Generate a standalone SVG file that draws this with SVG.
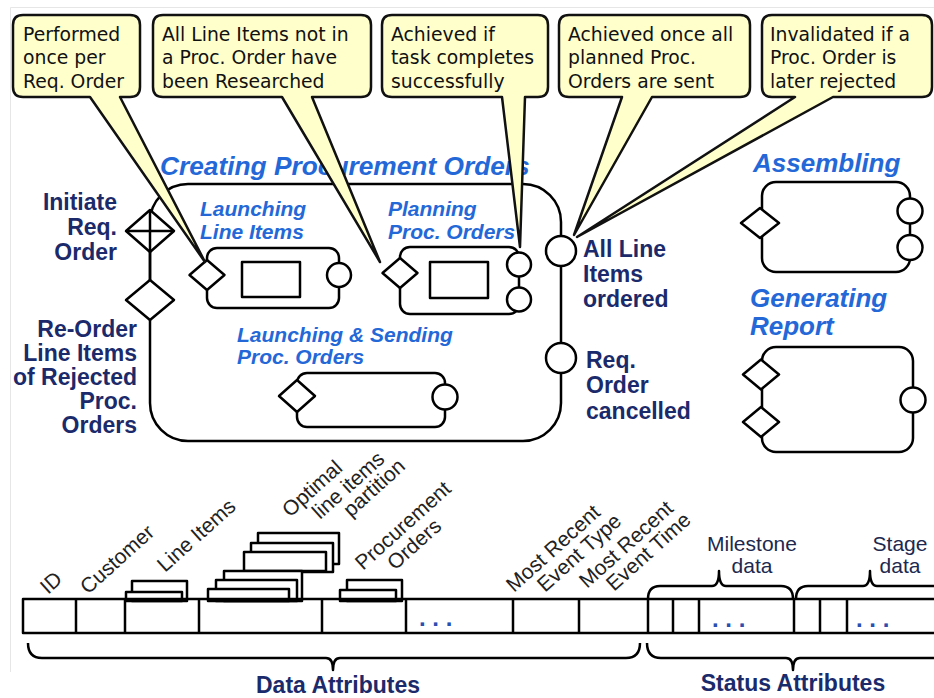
<svg xmlns="http://www.w3.org/2000/svg" width="934" height="698" viewBox="0 0 934 698">
<style>
.ln{fill:none;stroke:#000;stroke-width:2.5;stroke-linejoin:round}
.nd{fill:#fff;stroke:#000;stroke-width:2.5;stroke-linejoin:round}
.co{fill:#FFFFCC;stroke:#111;stroke-width:2.5;stroke-linejoin:round}
.ct{font-family:"DejaVu Sans",Verdana,sans-serif;font-size:18.8px;fill:#111}
.bt{font-family:"Liberation Sans",Arial,sans-serif;font-weight:bold;font-style:italic;fill:#2468d8}
.nv{font-family:"Liberation Sans",Arial,sans-serif;font-weight:bold;font-size:23px;fill:#1b2a6b}
.rt{font-family:"Liberation Sans",Arial,sans-serif;font-size:21px;fill:#222}
.md{font-family:"Liberation Sans",Arial,sans-serif;font-size:21px;fill:#20284f;text-anchor:middle}
.dt{font-family:"Liberation Sans",Arial,sans-serif;font-size:24px;font-weight:bold;fill:#2a4fb0}
</style>
<g id="frame" fill="none" stroke="#e6e6e6" stroke-width="1"><path d="M10.5,672 V7.5 H934"/></g>

<g id="title"><text class="bt" x="160" y="175" font-size="26.3">Creating Procurement Orders</text></g>

<g id="container">
<rect class="ln" x="150" y="184" width="411" height="257" rx="38"/>
</g>

<g id="initiate">
<polygon class="nd" points="150,210 174,231 150,252 126,231"/>
<path class="ln" d="M150,210 V252 M126,231 H174"/>
<text class="nv" text-anchor="end"><tspan x="117" y="210">Initiate</tspan><tspan x="117" y="235">Req.</tspan><tspan x="117" y="260">Order</tspan></text>
</g>
<g id="reorder">
<path class="ln" d="M150,252 V280"/>
<polygon class="nd" points="150,280 174,300 150,320 126,300"/>
<text class="nv" text-anchor="end"><tspan x="137" y="337">Re-Order</tspan><tspan x="137" y="361">Line Items</tspan><tspan x="137" y="385">of Rejected</tspan><tspan x="137" y="409">Proc.</tspan><tspan x="137" y="433">Orders</tspan></text>
</g>

<g id="launching-line-items">
<text class="bt" font-size="21"><tspan x="200" y="216">Launching</tspan><tspan x="200" y="239">Line Items</tspan></text>
<rect class="nd" x="207" y="248" width="132" height="60" rx="10"/>
<rect class="nd" x="242" y="262" width="58" height="35"/>
<polygon class="nd" points="207,260 224.5,275 207,290 189.5,275"/>
<circle class="nd" cx="339" cy="275" r="12"/>
</g>

<g id="planning-proc-orders">
<text class="bt" font-size="21"><tspan x="388" y="216">Planning</tspan><tspan x="388" y="239">Proc. Orders</tspan></text>
<rect class="nd" x="400" y="247" width="119" height="67" rx="10"/>
<rect class="nd" x="430" y="262" width="58" height="36"/>
<polygon class="nd" points="400,258 417.5,273 400,288 382.5,273"/>
<circle class="nd" cx="519" cy="264.5" r="12"/>
<circle class="nd" cx="519" cy="299.5" r="12"/>
</g>

<g id="launching-sending">
<text class="bt" font-size="21"><tspan x="237" y="342">Launching &amp; Sending</tspan><tspan x="237" y="364">Proc. Orders</tspan></text>
<rect class="nd" x="297" y="373" width="148" height="54" rx="10"/>
<polygon class="nd" points="297,380 315,396 297,412 279,396"/>
<circle class="nd" cx="445" cy="397" r="12.5"/>
</g>

<g id="all-line-items-ordered">
<circle class="nd" cx="561" cy="251" r="15"/>
<text class="nv"><tspan x="583" y="257">All Line</tspan><tspan x="583" y="282">Items</tspan><tspan x="583" y="307">ordered</tspan></text>
</g>
<g id="req-order-cancelled">
<circle class="nd" cx="561" cy="358" r="15"/>
<text class="nv"><tspan x="586" y="368">Req.</tspan><tspan x="586" y="393">Order</tspan><tspan x="586" y="419">cancelled</tspan></text>
</g>

<g id="assembling">
<text class="bt" x="753" y="172" font-size="26">Assembling</text>
<rect class="nd" x="762" y="182" width="148" height="90" rx="14"/>
<polygon class="nd" points="760,208 779,223 760,238 741,223"/>
<circle class="nd" cx="910" cy="211" r="12.5"/>
<circle class="nd" cx="910" cy="247.5" r="12.5"/>
</g>

<g id="generating-report">
<text class="bt" font-size="26"><tspan x="750" y="307">Generating</tspan><tspan x="750" y="335">Report</tspan></text>
<rect class="nd" x="762" y="347" width="151" height="105" rx="14"/>
<polygon class="nd" points="761,359.5 779,374.5 761,389.5 743,374.5"/>
<polygon class="nd" points="761,407 779,422 761,437 743,422"/>
<circle class="nd" cx="913" cy="400" r="12.5"/>
</g>

<g id="attribute-stacks">
<rect class="nd" x="132" y="581" width="55" height="20"/>
<rect class="nd" x="126" y="592" width="56" height="9"/>
<rect class="nd" x="258" y="533" width="81" height="31"/>
<rect class="nd" x="251" y="543" width="82" height="29"/>
<rect class="nd" x="244" y="552" width="82" height="19"/>
<rect class="nd" x="224" y="571" width="78" height="30"/>
<rect class="nd" x="216" y="580" width="81" height="21"/>
<rect class="nd" x="208" y="589" width="81" height="12"/>
<rect class="nd" x="347" y="580" width="55" height="21"/>
<rect class="nd" x="340" y="590" width="56" height="11"/>
</g>

<g id="attribute-row">
<path class="ln" d="M940,599 H23 V633 H940 M76,599 V633 M125,599 V633 M199,599 V633 M322,599 V633 M406,599 V633 M513,599 V633 M579,599 V633 M648,599 V633 M673,599 V633 M699,599 V633 M794,599 V633 M820,599 V633 M847,599 V633"/>
<text class="dt" x="419" y="626">. . .</text>
<text class="dt" x="712" y="627">. . .</text>
<text class="dt" x="856" y="627">. . .</text>
</g>

<g id="attribute-labels" class="rt">
<text transform="translate(48,595) rotate(-42)">ID</text>
<text transform="translate(88,595) rotate(-42)">Customer</text>
<text transform="translate(165,573) rotate(-42)">Line Items</text>
<text transform="translate(290,518) rotate(-42)">Optimal</text>
<text transform="translate(320,520) rotate(-42)">line items</text>
<text transform="translate(351,518) rotate(-42)">partition</text>
<text transform="translate(363,571) rotate(-42)">Procurement</text>
<text transform="translate(395,571) rotate(-42)">Orders</text>
<text transform="translate(514,593) rotate(-42)">Most Recent</text>
<text transform="translate(545,593) rotate(-42)">Event Type</text>
<text transform="translate(587,589) rotate(-42)">Most Recent</text>
<text transform="translate(614,592) rotate(-42)">Event Time</text>
</g>

<g id="milestone-data">
<path class="ln" d="M648,599 Q648,586 660,586 L712,586 Q719,586 719,571 Q719,586 726,586 L781,586 Q793,586 793,599"/>
<text class="md"><tspan x="752" y="551">Milestone</tspan><tspan x="752" y="573">data</tspan></text>
</g>
<g id="stage-data">
<path class="ln" d="M796,599 Q796,586 808,586 L863,586 Q870,586 870,571 Q870,586 877,586 L940,586"/>
<text class="md"><tspan x="900" y="551">Stage</tspan><tspan x="900" y="573">data</tspan></text>
</g>

<g id="data-attributes">
<path class="ln" d="M28,643 Q28,658 42,658 L326,658 Q333,658 333,670 Q333,658 340,658 L626,658 Q640,658 640,643"/>
<text class="nv" x="338" y="693" text-anchor="middle">Data Attributes</text>
</g>
<g id="status-attributes">
<path class="ln" d="M647,643 Q647,658 661,658 L786,658 Q793,658 793,670 Q793,658 800,658 L940,658"/>
<text class="nv" x="793" y="691" text-anchor="middle">Status Attributes</text>
</g>

<g id="callout-1">
<path class="co" d="M23,15 H130 Q140,15 140,25 V87 Q140,97 130,97 H120 L205,262 L90,97 H23 Q13,97 13,87 V25 Q13,15 23,15 Z"/>
<text class="ct"><tspan x="23" y="40.5">Performed</tspan><tspan x="23" y="64">once per</tspan><tspan x="23" y="87.5">Req. Order</tspan></text>
</g>
<g id="callout-2">
<path class="co" d="M163,15 H361 Q371,15 371,25 V87 Q371,97 361,97 H312 L380,262 L282,97 H163 Q153,97 153,87 V25 Q153,15 163,15 Z"/>
<text class="ct"><tspan x="162" y="40.5">All Line Items not in</tspan><tspan x="162" y="64">a Proc. Order have</tspan><tspan x="162" y="87.5">been Researched</tspan></text>
</g>
<g id="callout-3">
<path class="co" d="M392,15 H538 Q548,15 548,25 V87 Q548,97 538,97 H525 L520,247 L502,97 H392 Q382,97 382,87 V25 Q382,15 392,15 Z"/>
<text class="ct"><tspan x="391" y="40.5">Achieved if</tspan><tspan x="391" y="64">task completes</tspan><tspan x="391" y="87.5">successfully</tspan></text>
</g>
<g id="callout-4">
<path class="co" d="M569,15 H740 Q750,15 750,25 V87 Q750,97 740,97 H652 L574,235 L622,97 H569 Q559,97 559,87 V25 Q559,15 569,15 Z"/>
<text class="ct"><tspan x="568" y="40.5">Achieved once all</tspan><tspan x="568" y="64">planned Proc.</tspan><tspan x="568" y="87.5">Orders are sent</tspan></text>
</g>
<g id="callout-5">
<path class="co" d="M772,15 H922 Q932,15 932,25 V87 Q932,97 922,97 H833 L577,237 L795,97 H772 Q762,97 762,87 V25 Q762,15 772,15 Z"/>
<text class="ct"><tspan x="770" y="40.5">Invalidated if a</tspan><tspan x="770" y="64">Proc. Order is</tspan><tspan x="770" y="87.5">later rejected</tspan></text>
</g>
</svg>
